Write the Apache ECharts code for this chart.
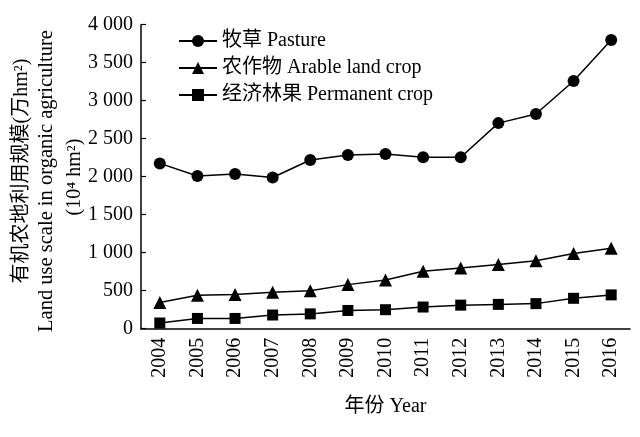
<!DOCTYPE html>
<html><head><meta charset="utf-8">
<script src="https://cdn.jsdelivr.net/npm/echarts@6/dist/echarts.min.js"></script>
<style>html,body{margin:0;padding:0;background:#fff}#c{width:640px;height:437px}</style>
</head><body><div id="c"></div>
<script>
var years = ['2004','2005','2006','2007','2008','2009','2010','2011','2012','2013','2014','2015','2016'];
var pasture = [2175, 2010, 2035, 1990, 2220, 2285, 2300, 2255, 2255, 2705, 2825, 3260, 3800];
var arable = [345, 440, 450, 480, 500, 580, 640, 755, 800, 845, 895, 990, 1060];
var permanent = [75, 135, 135, 180, 195, 240, 250, 285, 310, 320, 330, 400, 445];
var yTicks = [0, 500, 1000, 1500, 2000, 2500, 3000, 3500, 4000];
var names = ['牧草 Pasture', '农作物 Arable land crop', '经济林果 Permanent crop'];

var FONT = "'Liberation Serif', 'Noto Sans CJK SC', serif";
var chart = echarts.init(document.getElementById('c'));
function fmt(v){ return String(v).replace(/\B(?=(\d{3})+(?!\d))/g, ' '); }
function mk(name, data, sym, size){
  return {name:name, type:'line', data:data, symbol:sym, symbolSize:size,
    lineStyle:{color:'#000', width:1.5}, itemStyle:{color:'#000'}, z:3};
}
chart.setOption({
  animation:false,
  grid:{left:141, right:10, top:24.7, bottom:108.3},
  legend:{orient:'vertical', left:178, top:31, padding:0, itemWidth:38, itemHeight:15, itemGap:7,
    textStyle:{fontFamily:FONT, fontSize:20, color:'#000', lineHeight:20},
    data:names},
  xAxis:{type:'category', data:years, boundaryGap:true,
    axisLine:{lineStyle:{color:'#000', width:1.5}},
    axisTick:{inside:true, length:5, lineStyle:{color:'#000', width:1.2}},
    axisLabel:{rotate:90, margin:9, fontFamily:FONT, fontSize:20, color:'#000'},
    name:'年份 Year', nameLocation:'middle', nameGap:68,
    nameTextStyle:{fontFamily:FONT, fontSize:20, color:'#000'}},
  yAxis:{type:'value', min:yTicks[0], max:yTicks[yTicks.length-1], interval:500,
    splitLine:{show:false},
    axisLine:{show:true, lineStyle:{color:'#000', width:1.5}},
    axisTick:{show:true, inside:true, length:5, lineStyle:{color:'#000', width:1.2}},
    axisLabel:{margin:8, fontFamily:FONT, fontSize:20, color:'#000', formatter:fmt}},
  graphic:[
    {type:'text', x:22, y:171, rotation:Math.PI/2,
      style:{text:'有机农地利用规模(万hm²)', font:"20px "+FONT, fill:'#000', align:'center', verticalAlign:'middle'}},
    {type:'text', x:47, y:181, rotation:Math.PI/2,
      style:{text:'Land use scale in organic agriculture', font:"20.5px "+FONT, fill:'#000', align:'center', verticalAlign:'middle'}},
    {type:'text', x:75, y:177, rotation:Math.PI/2,
      style:{text:'(10⁴ hm²)', font:"20px "+FONT, fill:'#000', align:'center', verticalAlign:'middle'}}
  ],
  series:[
    mk(names[0], pasture, 'circle', 12),
    mk(names[1], arable, 'triangle', 13),
    mk(names[2], permanent, 'rect', 11)
  ]
});
</script></body></html>
